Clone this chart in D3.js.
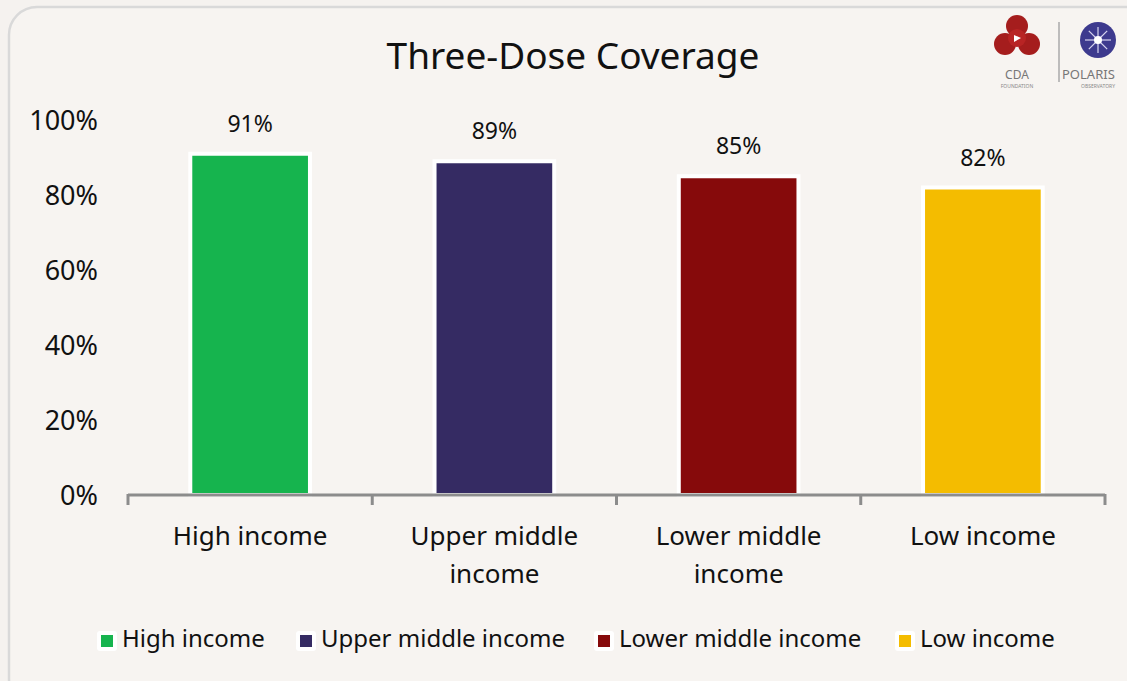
<!DOCTYPE html>
<html><head><meta charset="utf-8">
<script src="https://cdn.jsdelivr.net/npm/d3@7"></script>
<style>
html,body{margin:0;padding:0;background:#f5f2ef;}
svg{display:block;font-family:"Noto Sans","Open Sans",sans-serif;}
</style></head>
<body>
<svg id="c" width="1127" height="681"></svg>
<script>
const categories = ["High income","Upper middle income","Lower middle income","Low income"];
const catLines = [["High income"],["Upper middle","income"],["Lower middle","income"],["Low income"]];
const values = [91, 89, 85, 82];
const colors = ["#16b44e","#352b63","#860a0b","#f4bc00"];
const yTicks = [0,20,40,60,80,100];
const title = "Three-Dose Coverage";

const svg = d3.select("#c");
// card
svg.append("rect").attr("x",9).attr("y",7).attr("width",1160).attr("height",700)
  .attr("rx",28).attr("fill","#f7f4f1").attr("stroke","#d9d9d9").attr("stroke-width",2.5);

svg.append("text").attr("x",573).attr("y",69).attr("text-anchor","middle")
  .attr("font-size",37).attr("fill","#111").text(title);

const x = d3.scaleBand().domain(categories).range([128,1105]).paddingInner(0).paddingOuter(0);
const y = d3.scaleLinear().domain([0,100]).range([495,120]);

// y tick labels
svg.append("g").selectAll("text").data(yTicks).join("text")
  .attr("x",98).attr("y",d=>y(d)+10).attr("text-anchor","end")
  .attr("font-size",27).attr("fill","#111").text(d=>d+"%");

// bars
const bw = x.bandwidth()*0.49;
svg.append("g").selectAll("rect").data(values).join("rect")
  .attr("x",(d,i)=>x(categories[i])+x.bandwidth()/2-bw/2)
  .attr("y",d=>y(d)).attr("width",bw).attr("height",d=>y(0)-y(d))
  .attr("fill",(d,i)=>colors[i]).attr("stroke","#ffffff").attr("stroke-width",4);

// value labels
svg.append("g").selectAll("text").data(values).join("text")
  .attr("x",(d,i)=>x(categories[i])+x.bandwidth()/2).attr("y",d=>y(d)-22)
  .attr("text-anchor","middle").attr("font-size",23).attr("fill","#111").text(d=>d+"%");

// x axis
const ax = svg.append("g");
ax.append("line").attr("x1",128).attr("x2",1105).attr("y1",495).attr("y2",495)
  .attr("stroke","#8c8c8c").attr("stroke-width",3);
const bounds = categories.map(c=>x(c)).concat([x.range()[1]]);
ax.selectAll("line.t").data(bounds).join("line").attr("class","t")
  .attr("x1",d=>d).attr("x2",d=>d).attr("y1",494).attr("y2",505)
  .attr("stroke","#8c8c8c").attr("stroke-width",3);

// category labels
categories.forEach((c,i)=>{
  const t = svg.append("text").attr("x",x(c)+x.bandwidth()/2).attr("y",545)
    .attr("text-anchor","middle").attr("font-size",26).attr("fill","#111");
  catLines[i].forEach((l,j)=>t.append("tspan").attr("x",x(c)+x.bandwidth()/2).attr("dy",j?38:0).text(l));
});

// legend
const legX = [101,300,598,899];
const lg = svg.append("g").selectAll("g").data(categories).join("g")
  .attr("transform",(d,i)=>`translate(${legX[i]},635)`);
lg.append("rect").attr("x",-4).attr("y",-4).attr("width",20).attr("height",20).attr("rx",3).attr("fill","#fff");
lg.append("rect").attr("width",12).attr("height",12).attr("fill",(d,i)=>colors[i]);
lg.append("text").attr("x",21).attr("y",12).attr("font-size",24).attr("fill","#111").text(d=>d);

// logos (approximate)
const lgo = svg.append("g");
const cda = lgo.append("g").attr("transform","translate(1017,38)");
[[0,-12],[12,6],[-12,6]].forEach(p=>cda.append("circle").attr("cx",p[0]).attr("cy",p[1]).attr("r",11).attr("fill","#a51d1d"));
cda.append("circle").attr("r",9).attr("fill","#b82424");
cda.append("path").attr("d","M-3,-3 L4,0 L-3,4 Z").attr("fill","#fff");
lgo.append("text").attr("x",1017).attr("y",79).attr("text-anchor","middle").attr("font-size",12).attr("fill","#777").text("CDA");
lgo.append("text").attr("x",1017).attr("y",88).attr("text-anchor","middle").attr("font-size",5).attr("fill","#888").text("FOUNDATION");
lgo.append("line").attr("x1",1059).attr("x2",1059).attr("y1",22).attr("y2",82).attr("stroke","#aaa").attr("stroke-width",1.5);
const pol = lgo.append("g").attr("transform","translate(1098,40)");
pol.append("circle").attr("r",18).attr("fill","#3d3a8e");
d3.range(8).forEach(k=>{const a=k*Math.PI/4;pol.append("line").attr("x1",0).attr("y1",0).attr("x2",13*Math.cos(a)).attr("y2",13*Math.sin(a)).attr("stroke","#d8d6f0").attr("stroke-width",1.2);});
pol.append("circle").attr("r",4).attr("fill","#fff");
lgo.append("text").attr("x",1062).attr("y",79).attr("font-size",13).attr("fill","#777").text("POLARIS");
lgo.append("text").attr("x",1098).attr("y",88).attr("text-anchor","middle").attr("font-size",5).attr("fill","#888").text("OBSERVATORY");
</script>
</body></html>
